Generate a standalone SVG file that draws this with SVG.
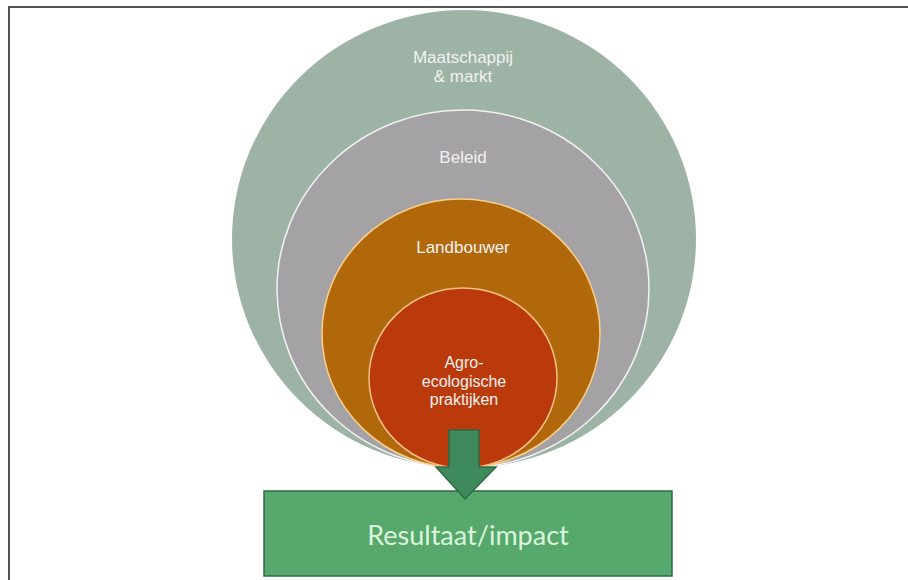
<svg xmlns="http://www.w3.org/2000/svg" width="908" height="580" viewBox="0 0 908 580">
<defs>
<style>
.lbl{font-family:"Liberation Sans",Arial,sans-serif;font-size:17px;fill:#f1f1ef;text-anchor:middle}
.sm{font-size:16px}
.res{font-family:Lato,"Liberation Sans",sans-serif;font-size:27px;fill:#dcf5dc;text-anchor:middle}
</style>
</defs>
<rect width="908" height="580" fill="#ffffff"/>
<path d="M9,580 V7 H908" fill="none" stroke="#555555" stroke-width="2"/>
<g id="maatschappij">
<ellipse cx="464" cy="239" rx="232" ry="229" fill="#9db3a6"/>
<text class="lbl" x="463" y="63">Maatschappij</text>
<text class="lbl" x="463" y="82">&amp; markt</text>
</g>
<g id="beleid">
<ellipse cx="463" cy="289" rx="186" ry="179" fill="#a5a2a6" stroke="#f2f2f2" stroke-width="1.5"/>
<text class="lbl" x="463" y="163">Beleid</text>
</g>
<g id="landbouwer">
<ellipse cx="461" cy="333.5" rx="139" ry="134.5" fill="#b1680a" stroke="#f8cf8a" stroke-width="1.5"/>
<text class="lbl" x="463" y="253">Landbouwer</text>
</g>
<g id="agro">
<ellipse cx="463" cy="378" rx="94" ry="90" fill="#ba3a0c" stroke="#f6c089" stroke-width="1.5"/>
<text class="lbl sm" x="464" y="368">Agro-</text>
<text class="lbl sm" x="464" y="386.5">ecologische</text>
<text class="lbl sm" x="464" y="405">praktijken</text>
</g>
<g id="resultaat">
<rect x="264" y="491" width="408" height="85" fill="#56a86c" stroke="#2e6a42" stroke-width="1.5"/>
<text class="res" x="468" y="545">Resultaat/impact</text>
</g>
<g id="connectors">
<path d="M449,430 H479 V467 H496 L465,499 L436,467 H449 Z" fill="#3f8a5c" stroke="#2c6a43" stroke-width="1.5" stroke-linejoin="miter"/>
</g>
</svg>
